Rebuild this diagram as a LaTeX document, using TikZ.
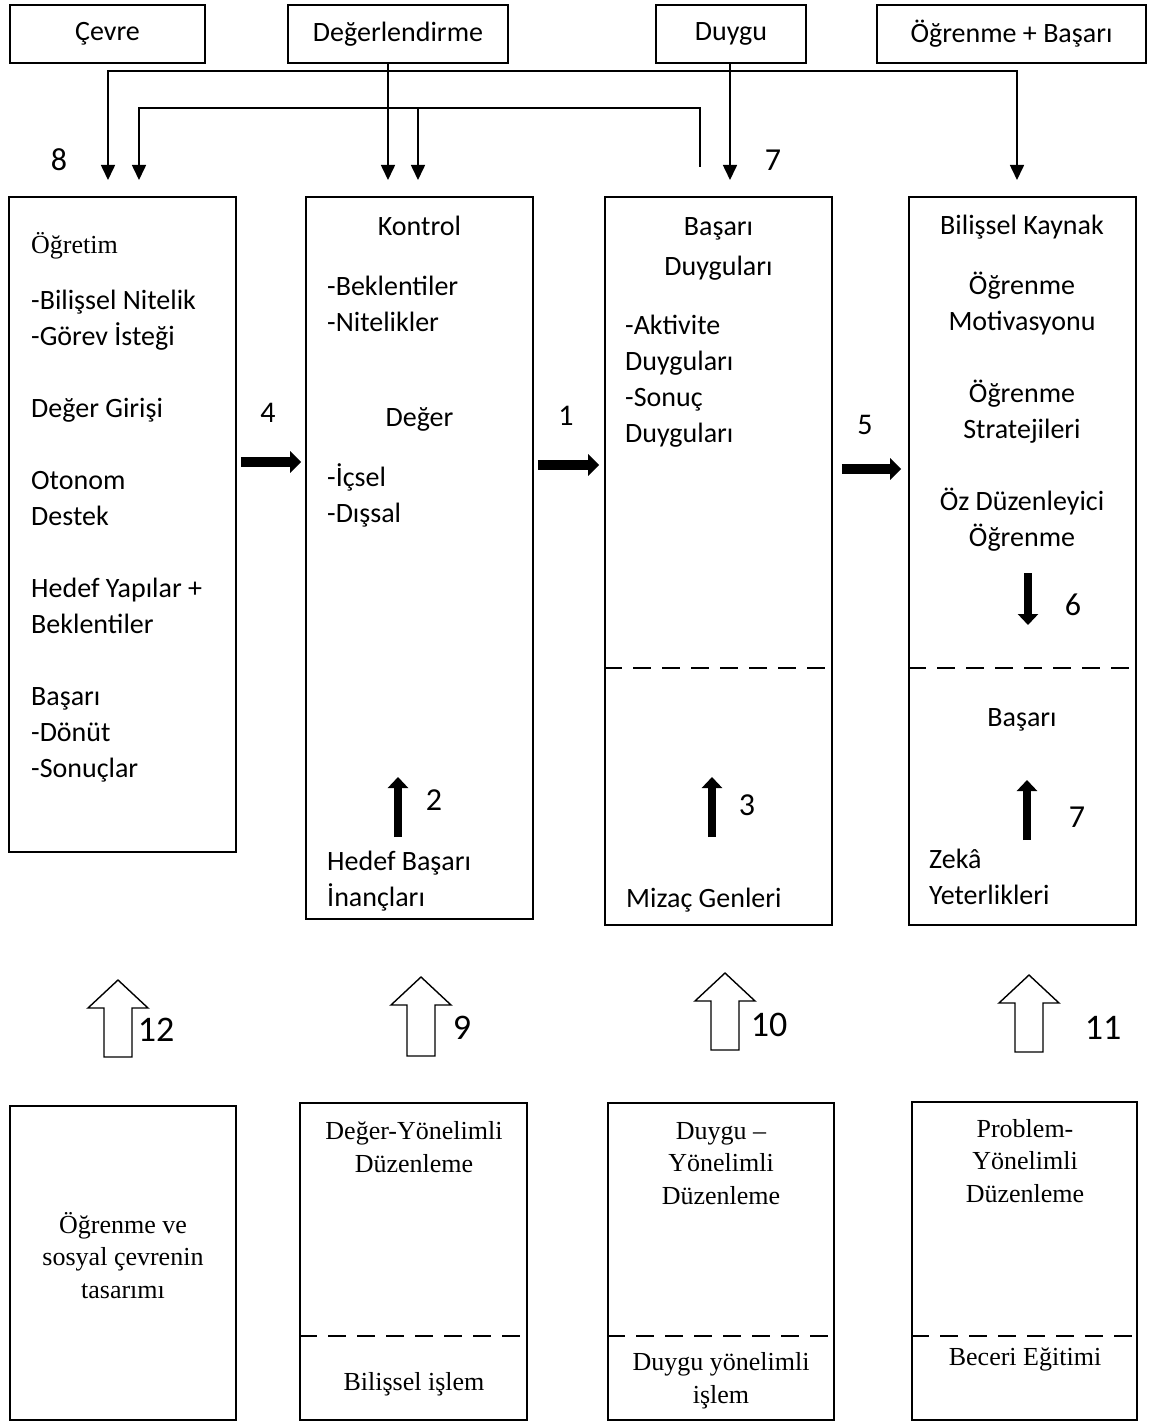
\documentclass[tikz,border=0pt]{standalone}
\usepackage{fontspec}
\setmainfont{Carlito}
\newfontfamily\tnr{Liberation Serif}
\usetikzlibrary{arrows.meta}

\begin{document}
\begin{tikzpicture}[x=1pt, y=-1pt,
    box/.style={draw, line width=1.6pt, inner sep=0pt},
    txt/.style={inner sep=0pt, font=\fontsize{28}{36}\selectfont},
    ser/.style={inner sep=0pt, font=\tnr\fontsize{26}{32.5}\selectfont},
    num/.style={inner sep=0pt, font=\fontsize{32}{36}\selectfont},
    fb/.style={line width=1.6pt},
    fbarrow/.style={fb, -{Triangle[length=15pt,width=14pt]}},
    bigarrow/.style={line width=10pt, -{Triangle[length=11pt,width=21pt]}},
    midarrow/.style={line width=8pt, -{Triangle[length=11pt,width=20pt]}},
    hollow/.style={draw, line width=1.4pt, fill=white},
    split/.style={line width=2pt, dash pattern=on 18pt off 11pt}]
    \useasboundingbox[fill=white] (0,0) rectangle (1149,1423);

    % Top boxes
    \node[box, txt, minimum width=195pt, minimum height=58pt] (cevre) at (107.5,34) {Çevre};
    \node[box, txt, minimum width=220pt, minimum height=58pt] (degerl) at (398,34) {Değerlendirme};
    \node[box, txt, minimum width=150pt, minimum height=58pt] (duygu) at (731,34) {Duygu};
    \node[box, txt, minimum width=269pt, minimum height=58pt] (ogrbas) at (1011.5,34) {Öğrenme + Başarı};

    % Feedback lines
    \coordinate (rowA) at (0,71);
    \coordinate (rowB) at (0,108);
    \coordinate (in1a) at (108,180);
    \coordinate (in1b) at (139,180);
    \coordinate (in2a) at (388,180);
    \coordinate (in2b) at (418,180);
    \coordinate (in3) at (730,180);
    \coordinate (in4) at (1017,180);
    \coordinate (out3) at (700,167);
    \draw[fb, {Triangle[length=15pt,width=14pt]}-{Triangle[length=15pt,width=14pt]}] (in1a) |- (rowA -| in4) -- (in4);
    \draw[fbarrow] (degerl.south -| in2a) -- (in2a);
    \draw[fbarrow] (duygu.south -| in3) -- (in3);
    \draw[fbarrow] (out3) |- (rowB -| in1b) -- (in1b);
    \draw[fbarrow] (rowB -| in2b) -- (in2b);
    \node[num] (n8) at (59,160) {8};
    \node[num] (n7a) at (773,160) {7};

    % Main boxes
    \node[box, minimum width=227pt, minimum height=655pt] (ogretim) at (122.5,524.5) {};
    \node[box, minimum width=227pt, minimum height=722pt] (kontrol) at (419.5,558) {};
    \node[box, minimum width=227pt, minimum height=728pt] (duygular) at (718.5,561) {};
    \node[box, minimum width=227pt, minimum height=728pt] (kaynak) at (1022.5,561) {};
    \draw[split] (duygular.west |- 0,668) -- (duygular.east |- 0,668);
    \draw[split] (kaynak.west |- 0,668) -- (kaynak.east |- 0,668);

    % Arrows between main boxes
    \draw[bigarrow, shorten <=4pt, shorten >=4pt] (ogretim.east |- 0,462) -- (kontrol.west |- 0,462);
    \draw[bigarrow, shorten <=4pt, shorten >=5pt] (kontrol.east |- 0,465) -- (duygular.west |- 0,465);
    \draw[bigarrow, shorten <=9pt, shorten >=7pt] (duygular.east |- 0,469) -- (kaynak.west |- 0,469);
    \node[num, font=\fontsize{30}{36}\selectfont] (n4) at (268,413) {4};
    \node[num, font=\fontsize{30}{36}\selectfont] (n1) at (566,416) {1};
    \node[num, font=\fontsize{30}{36}\selectfont] (n5) at (865,425) {5};

    % Box 1
    \node[ser, anchor=base west] (ogrt) at (31,254) {Öğretim};
    \node[txt, anchor=base west, align=left] (ogrlist) at (31,777)
        {-Bilişsel Nitelik\\-Görev İsteği\\[36pt]Değer Girişi\\[36pt]Otonom\\Destek\\[36pt]Hedef Yapılar +\\Beklentiler\\[36pt]Başarı\\-Dönüt\\-Sonuçlar};

    % Box 2
    \node[txt, anchor=base] (kont) at (419.5,236) {Kontrol};
    \node[txt, anchor=base west, align=left] (beklist) at (327,331) {-Beklentiler\\-Nitelikler};
    \node[txt, anchor=base] (deger) at (419.5,426) {Değer};
    \node[txt, anchor=base west, align=left] (iclist) at (327,522) {-İçsel\\-Dışsal};
    \node[txt, anchor=base west, align=left] (hedef) at (327,906) {Hedef Başarı\\İnançları};
    \draw[midarrow] (398,837) -- (398,777);
    \node[num] (n2) at (434,800) {2};

    % Box 3
    \node[txt, anchor=base, align=center] (basd) at (718.5,276) {Başarı\\[4pt]Duyguları};
    \node[txt, anchor=base west, align=left] (aktlist) at (625,442) {-Aktivite\\Duyguları\\-Sonuç\\Duyguları};
    \node[txt, anchor=base west] (mizac) at (626,907) {Mizaç Genleri};
    \draw[midarrow] (712,837) -- (712,777);
    \node[num] (n3) at (747,805) {3};

    % Box 4
    \node[txt, anchor=base, align=center] (kaylist) at (1022,546)
        {Bilişsel Kaynak\\[24pt]Öğrenme\\Motivasyonu\\[36pt]Öğrenme\\Stratejileri\\[36pt]Öz Düzenleyici\\Öğrenme};
    \draw[midarrow] (1028,573) -- (1028,625);
    \node[num] (n6) at (1073,605) {6};
    \node[txt, anchor=base] (basari) at (1022,726) {Başarı};
    \draw[midarrow] (1027,840) -- (1027,780);
    \node[num] (n7b) at (1077,817) {7};
    \node[txt, anchor=base west, align=left] (zeka) at (929,904) {Zekâ\\Yeterlikleri};

    % Hollow arrows
    \foreach \cx/\ty/\by in {118/980/1057, 421/977/1056, 725/973/1050, 1029/975/1052}
        \draw[hollow] (\cx,\ty) -- (\cx+30,\ty+28) -- (\cx+14,\ty+28) -- (\cx+14,\by)
            -- (\cx-14,\by) -- (\cx-14,\ty+28) -- (\cx-30,\ty+28) -- cycle;
    \node[num, font=\fontsize{36}{40}\selectfont] (n12) at (156,1030) {12};
    \node[num, font=\fontsize{36}{40}\selectfont] (n9) at (462,1028) {9};
    \node[num, font=\fontsize{36}{40}\selectfont] (n10) at (769,1025) {10};
    \node[num, font=\fontsize{36}{40}\selectfont] (n11) at (1103,1028) {11};

    % Bottom boxes
    \node[box, minimum width=226pt, minimum height=314pt] (tasarim) at (123,1263) {};
    \node[box, minimum width=227pt, minimum height=317pt] (degyon) at (413.5,1261.5) {};
    \node[box, minimum width=226pt, minimum height=317pt] (duyyon) at (721,1261.5) {};
    \node[box, minimum width=225pt, minimum height=318pt] (probyon) at (1024.5,1261) {};
    \draw[split] (degyon.west |- 0,1336) -- (degyon.east |- 0,1336);
    \draw[split] (duyyon.west |- 0,1336) -- (duyyon.east |- 0,1336);
    \draw[split] (probyon.west |- 0,1336) -- (probyon.east |- 0,1336);
    \node[ser, anchor=base, align=center] (tastxt) at (123,1298) {Öğrenme ve\\sosyal çevrenin\\tasarımı};
    \node[ser, anchor=base, align=center] (degtxt) at (414,1172) {Değer-Yönelimli\\Düzenleme};
    \node[ser, anchor=base] (biltxt) at (414,1390) {Bilişsel işlem};
    \node[ser, anchor=base, align=center] (duytxt) at (721,1204) {Duygu –\\Yönelimli\\Düzenleme};
    \node[ser, anchor=base, align=center] (duyistxt) at (721,1403) {Duygu yönelimli\\işlem};
    \node[ser, anchor=base, align=center] (probtxt) at (1025,1202) {Problem-\\Yönelimli\\Düzenleme};
    \node[ser, anchor=base] (becerit) at (1025,1365) {Beceri Eğitimi};
\end{tikzpicture}
\end{document}
